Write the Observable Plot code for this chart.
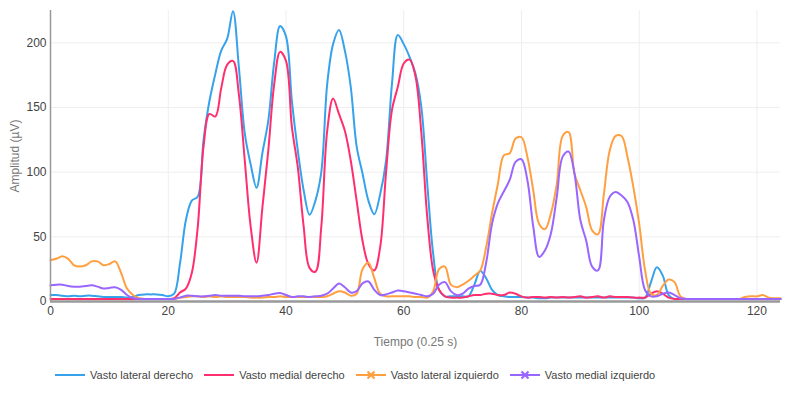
<!DOCTYPE html>
<html>
<head>
<meta charset="utf-8">
<script src="https://cdn.jsdelivr.net/npm/d3@7"></script>
<script src="https://cdn.jsdelivr.net/npm/@observablehq/plot@0.6"></script>
<style>
  body { margin: 0; background: #fff; font-family: "Liberation Sans", Arial, sans-serif; }
  #chart svg [aria-label="x-axis label"] text, #chart svg [aria-label="y-axis label"] text { fill: #777; }
  #chart svg [aria-label="x-axis label"], #chart svg [aria-label="y-axis label"] { fill: #777; }
  #legend { display: flex; align-items: center; padding-left: 55px; height: 40px; margin-top: 0; font-size: 11px; color: #444; }
  .item { display: inline-flex; align-items: center; margin-right: 11px; }
  .item svg { margin-right: 5px; }
</style>
</head>
<body>
<div id="chart"></div>
<div id="legend"></div>
<script>
const seriesNames = ["Vasto lateral derecho", "Vasto medial derecho", "Vasto lateral izquierdo", "Vasto medial izquierdo"];
const seriesColors = ["#36a2eb", "#ff2e6f", "#ff9f40", "#9966ff"];
const seriesMarkers = [false, false, true, true];
const xTicks = [0, 20, 40, 60, 80, 100, 120];
const yTicks = [0, 50, 100, 150, 200];

const lateralDerecho = [5,5,4.5,4,4.5,4,4.5,4.5,4,3.5,3.5,3.5,3.5,3,3.5,5,5.5,5.5,5.5,5,4,6,29.5,63,78,81,125,155,176,194,203,224.5,181,130,106,88,115,140,185,213,205,155,117,86,67,78,100,168,199,210,194,166,120,99,78,67.5,83,109,168,206,199,189,176,150,91,37,9,4,4,4,4,4,13,23.5,18,9,5,4,3.5,3.5,3.5,3,3,2.5,2.5,3,3,3,3,3,3,3,3,3,3,3,3,3,3,3,2.5,3,15,26.5,20,5,2,2,2,2,2,2,2,2,2,2,2,2,2,2,2,2,2,2,2];
const medialDerecho = [2,2,2,2,2,2,2,2,2,2,2,2,2,2,2,2,2,2,2,2,2,2.5,7,10,22,57,120,145,143,165,183,186,160,109,58,30,73,117,168,193,186,135,104,58,26,23,58,132,157,145,132,109,78,47,29,24,42,100,148,166,184,187,174,130,65,24,9,4,3,3,3,4,5,5,6,6,5,5,7,6,4,3,3.5,3.5,3,3.5,3,3.5,3,3.5,4,3,3.5,4,3,4,3.5,3.5,3.5,3,3,3,6,8,6,3,2,2,2,2,2,2,2,2,2,2,2,2,2,2,2,2,2,2,2];
const lateralIzquierdo = [32,33,35,33,28,27,28,31,31,28,29,31,22,10,5,2.5,2,2,2,2,2,2,3,3.5,4,4,3.5,4,3.5,4,3.5,3.5,3.5,3.5,3,3,3,3.5,3.5,4,3.5,3.5,3.5,3.5,3.5,3.5,3.5,4,6,8,7,4.5,6,25,30,18,6,4,4,4,4,4,3.5,3.5,3,8,25,27,13,11,13,16,20,24,42,68,91,113,114.6,126,127,112,86,60,56,68,91,128,131,99,86,73,55,52,83,117,128,128,112,88.6,60,24,6,5,12,17,15,4,2,2,2,2,2,2,2,2,2,2,3.5,4,4,5,3,2.5,2.5];
const medialIzquierdo = [12.5,13,13,12,11.5,11.5,12,12.5,11.5,10,10.5,11,9,5,2.5,2,2,2,2,2,2,2,3,4.5,4.5,4,4,4.5,5,4.5,4.5,4.5,4.5,4,4,4,4.5,5,6,6.5,5,3.5,4,4,3.5,4,4.5,6,10,14,11,7,8,14,15.5,9,5,5.5,7,8.5,8,7,6,5,4,6,13,15,8,5,6,10,12,13,30,60,76,85,94,108,110,94,58,34.5,39.6,52.6,81,112,116,99,63,47,27,24,63,81,84.7,82,77,63,34.5,8.7,4,4,6,7,5,2.5,2,2,2,2,2,2,2,2,2,2,2,2,2,2,2,2,2];

const seriesValues = [lateralDerecho, medialDerecho, lateralIzquierdo, medialIzquierdo];
const rows = [];
seriesValues.forEach((vals, s) => vals.forEach((v, t) => rows.push({serie: seriesNames[s], t, v})));

const chart = Plot.plot({
  width: 800,
  height: 355,
  marginLeft: 50,
  marginRight: 20,
  marginTop: 10,
  marginBottom: 54,
  style: {fontFamily: "'Liberation Sans', Arial, sans-serif", fontSize: "12px", color: "#444", background: "#fff"},
  x: {domain: [0, 124], ticks: xTicks, label: "Tiempo (0.25 s)", labelAnchor: "center", labelOffset: 44, tickSize: 0, tickPadding: 5, labelArrow: "none"},
  y: {domain: [0, 225], ticks: yTicks, label: "Amplitud (µV)", labelAnchor: "center", labelOffset: 40, tickSize: 0, tickPadding: 4, labelArrow: "none"},
  color: {domain: seriesNames, range: seriesColors},
  marks: [
    Plot.ruleX(xTicks.slice(1), {stroke: "#eee", strokeWidth: 1}),
    Plot.ruleY(yTicks.slice(1), {stroke: "#eee", strokeWidth: 1}),
    Plot.lineY(rows, {x: "t", y: "v", z: "serie", stroke: "serie", strokeWidth: 2, curve: "catmull-rom"}),
    Plot.ruleX([0], {stroke: "#999", strokeWidth: 1.5}),
    Plot.ruleY([0], {stroke: "#999", strokeWidth: 2.5})
  ]
});
document.getElementById("chart").appendChild(chart);

const legend = document.getElementById("legend");
seriesNames.forEach((name, i) => {
  const item = document.createElement("span");
  item.className = "item";
  const c = seriesColors[i];
  let sw = `<svg width="30" height="12"><line x1="0" y1="6" x2="30" y2="6" stroke="${c}" stroke-width="2"/>`;
  if (seriesMarkers[i]) sw += `<path d="M11.5,2.5L18.5,9.5M18.5,2.5L11.5,9.5" stroke="${c}" stroke-width="2.2"/>`;
  sw += `</svg>`;
  item.innerHTML = sw + `<span>${name}</span>`;
  legend.appendChild(item);
});
</script>
</body>
</html>
